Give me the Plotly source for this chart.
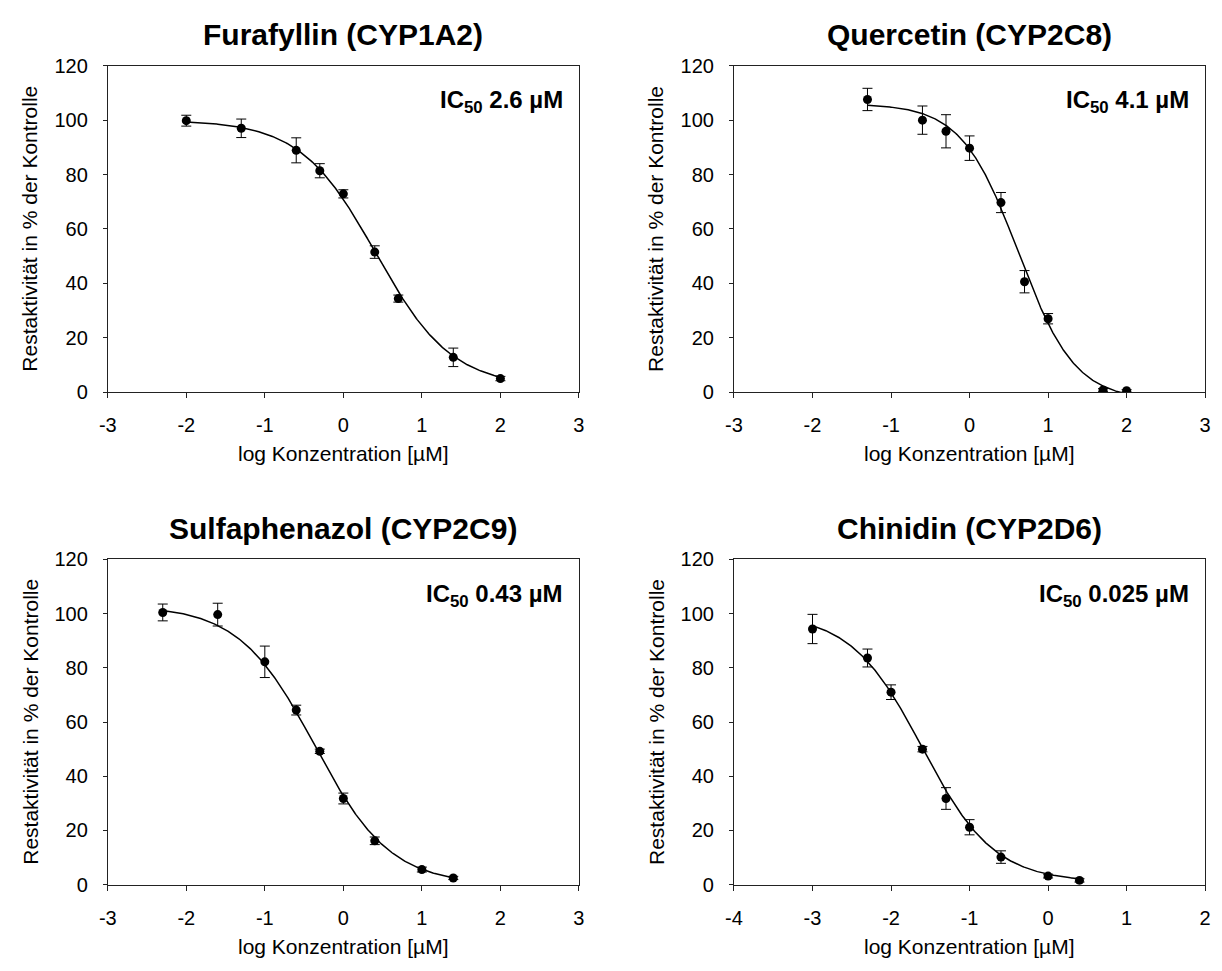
import numpy as np
import plotly.graph_objects as go

# ---------------- data ----------------
titles = ["Furafyllin (CYP1A2)", "Quercetin (CYP2C8)", "Sulfaphenazol (CYP2C9)", "Chinidin (CYP2D6)"]
ic50_labels = ["2.6 µM", "4.1 µM", "0.43 µM", "0.025 µM"]

x1 = [-2.0, -1.3, -0.6, -0.3, 0.0, 0.4, 0.7, 1.4, 2.0]
y1 = [99.8, 97.0, 88.9, 81.4, 72.9, 51.5, 34.4, 12.8, 5.0]
e1 = [2.0, 3.4, 4.6, 2.6, 1.5, 2.3, 1.3, 3.4, 0.8]

x2 = [-1.3, -0.6, -0.3, 0.0, 0.4, 0.7, 1.0, 1.7, 2.0]
y2 = [107.6, 100.0, 95.9, 89.7, 69.7, 40.6, 27.0, 0.8, 0.5]
e2 = [4.1, 5.2, 6.1, 4.5, 3.7, 4.1, 1.9, 0.5, 0.4]

x3 = [-2.3, -1.6, -1.0, -0.6, -0.3, 0.0, 0.4, 1.0, 1.4]
y3 = [100.4, 99.6, 82.2, 64.4, 49.2, 31.8, 16.2, 5.6, 2.5]
e3 = [3.1, 4.2, 5.8, 1.8, 0.8, 2.0, 1.4, 0.9, 0.6]

x4 = [-3.0, -2.3, -2.0, -1.6, -1.3, -1.0, -0.6, 0.0, 0.4]
y4 = [94.3, 83.6, 71.0, 50.0, 31.8, 21.2, 10.2, 3.2, 1.6]
e4 = [5.4, 3.3, 2.7, 1.0, 4.0, 2.8, 2.3, 0.7, 0.6]

# four-parameter logistic fit parameters (top, bottom, logIC50, hill slope)
fit_top = [100.0, 106.0, 103.0, 100.0]
fit_bottom = [2.0, -3.0, 0.0, 1.0]
fit_logic50 = [0.415, 0.62, -0.367, -1.602]
fit_hill = [0.9, 1.2, 0.9, 0.95]

x_tick_vals = [[-3, -2, -1, 0, 1, 2, 3], [-3, -2, -1, 0, 1, 2, 3],
               [-3, -2, -1, 0, 1, 2, 3], [-4, -3, -2, -1, 0, 1, 2]]
x_tick_text = [["-3", "-2", "-1", "0", "1", "2", "3"], ["-3", "-2", "-1", "0", "1", "2", "3"],
               ["-3", "-2", "-1", "0", "1", "2", "3"], ["-4", "-3", "-2", "-1", "0", "1", "2"]]
y_ticks = [0, 20, 40, 60, 80, 100, 120]

xs = [x1, x2, x3, x4]
ys = [y1, y2, y3, y4]
es = [e1, e2, e3, e4]

# ---------------- layout geometry ----------------
W, H = 1222, 971
FONT = "Arial, 'Liberation Sans', sans-serif"
col_px = [(100, 577), (734, 1211)]
row_px = [(56, 390), (561, 894)]

def px_x(p):
    return p / W

def px_y(p):
    return 1 - p / H

fig = go.Figure()
layout = dict(
    width=W, height=H,
    margin=dict(l=0, r=0, t=0, b=0),
    paper_bgcolor="white", plot_bgcolor="white",
    showlegend=False,
    font=dict(family=FONT, color="black"),
)
annotations = []

for i in range(4):
    r, c = divmod(i, 2)
    xl, xr = col_px[c]
    yt, yb = row_px[r]
    ax = "" if i == 0 else str(i + 1)
    xa, ya = "x" + ax, "y" + ax

    layout["xaxis" + ax] = dict(
        domain=[px_x(xl), px_x(xr)], anchor=ya,
        range=[x_tick_vals[i][0], x_tick_vals[i][-1]],
        tickmode="array", tickvals=x_tick_vals[i], ticktext=x_tick_text[i],
        ticks="outside", ticklen=5, tickwidth=1, tickcolor="#222",
        showline=True, linecolor="#222", linewidth=1, mirror=True,
        showgrid=False, zeroline=False,
        tickfont=dict(size=20, family=FONT, color="black"),
        ticklabelstandoff=10,
    )
    layout["yaxis" + ax] = dict(
        domain=[px_y(yb), px_y(yt)], anchor=xa, range=[0, 120],
        tickmode="array", tickvals=y_ticks, ticktext=[str(v) for v in y_ticks],
        ticks="outside", ticklen=4, tickwidth=1, tickcolor="#222",
        showline=True, linecolor="#222", linewidth=1, mirror=True,
        showgrid=False, zeroline=False,
        tickfont=dict(size=20, family=FONT, color="black"),
        ticklabelstandoff=11,
    )

    # fitted curve
    xc = np.linspace(min(xs[i]), max(xs[i]), 300)
    yc = fit_bottom[i] + (fit_top[i] - fit_bottom[i]) / (1 + 10 ** ((xc - fit_logic50[i]) * fit_hill[i]))
    fig.add_trace(go.Scatter(x=xc, y=yc, mode="lines", line=dict(color="black", width=1.5),
                             xaxis=xa, yaxis=ya, hoverinfo="skip"))
    # data points
    fig.add_trace(go.Scatter(
        x=xs[i], y=ys[i], mode="markers",
        marker=dict(color="black", size=9),
        error_y=dict(type="data", array=es[i], visible=True, color="black", thickness=1, width=5),
        xaxis=xa, yaxis=ya))

    cx = (xl + xr) / 2
    cy = (yt + yb) / 2
    # title
    annotations.append(dict(
        text="<b>%s</b>" % titles[i], x=px_x(cx), y=px_y(yt - 32), xref="paper", yref="paper",
        xanchor="center", yanchor="middle", showarrow=False,
        font=dict(size=30, family=FONT, color="black")))
    # x-axis title
    annotations.append(dict(
        text="log Konzentration [µM]", x=px_x(cx), y=px_y(yb + 63), xref="paper", yref="paper",
        xanchor="center", yanchor="middle", showarrow=False,
        font=dict(size=21, family=FONT, color="black")))
    # y-axis title
    annotations.append(dict(
        text="Restaktivität in % der Kontrolle", x=px_x(xl - 79), y=px_y(cy), xref="paper", yref="paper",
        xanchor="center", yanchor="middle", showarrow=False, textangle=-90,
        font=dict(size=21, family=FONT, color="black")))
    # IC50 label
    annotations.append(dict(
        text="<b>IC<sub>50</sub> %s</b>" % ic50_labels[i], x=px_x(xr - 14), y=px_y(yt + 37),
        xref="paper", yref="paper", xanchor="right", yanchor="middle", showarrow=False,
        font=dict(size=24, family=FONT, color="black")))

layout["annotations"] = annotations
fig.update_layout(**layout)
fig.write_html("out.html")
